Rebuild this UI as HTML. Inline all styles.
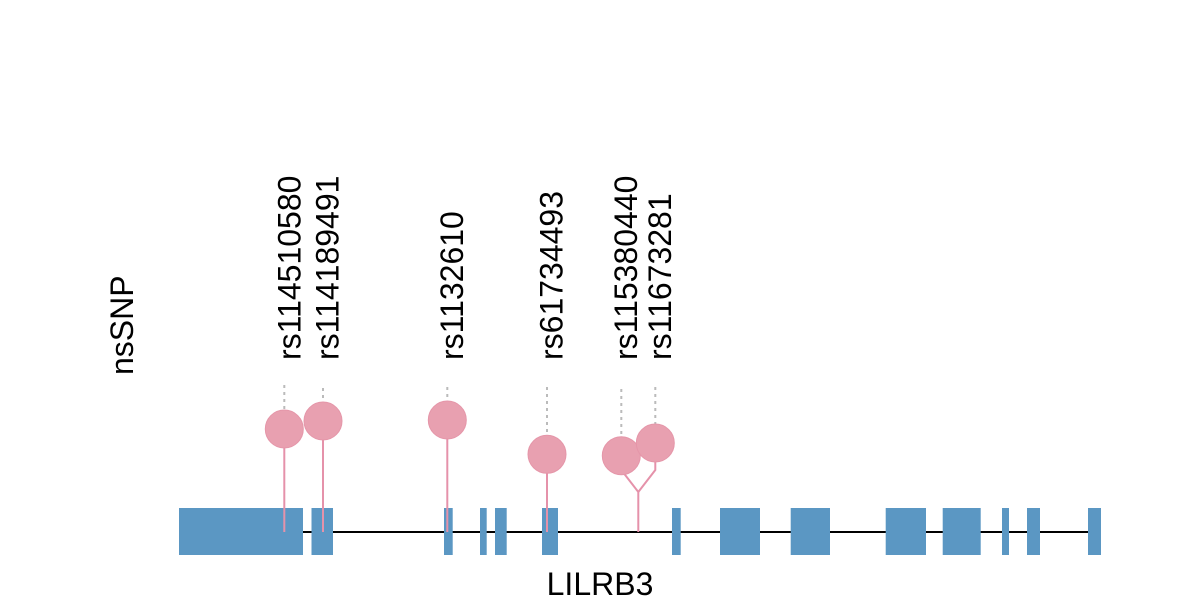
<!DOCTYPE html>
<html><head><meta charset="utf-8"><style>html,body{margin:0;padding:0;background:#fff;}svg{display:block}</style></head>
<body>
<svg width="1200" height="600" xmlns="http://www.w3.org/2000/svg" font-family="Liberation Sans, Arial, sans-serif">
<rect width="1200" height="600" fill="#fff"/>
<line x1="179" y1="532" x2="1101" y2="532" stroke="#000" stroke-width="2"/>
<g fill="#5b97c3">
<rect x="179" y="508" width="124" height="47"/>
<rect x="311.5" y="508" width="21.5" height="47"/>
<rect x="444" y="508" width="8.7" height="47"/>
<rect x="480" y="508" width="6.7" height="47"/>
<rect x="495" y="508" width="11.7" height="47"/>
<rect x="542" y="508" width="16" height="47"/>
<rect x="672" y="508" width="8.7" height="47"/>
<rect x="720" y="508" width="40" height="47"/>
<rect x="790.7" y="508" width="39.3" height="47"/>
<rect x="885.7" y="508" width="40.3" height="47"/>
<rect x="942.7" y="508" width="38" height="47"/>
<rect x="1002" y="508" width="7" height="47"/>
<rect x="1027" y="508" width="13" height="47"/>
<rect x="1088" y="508" width="13" height="47"/>
</g>
<g stroke="#bbb" stroke-width="2" stroke-dasharray="3,4">
<line x1="284.3" y1="385" x2="284.3" y2="410"/>
<line x1="323" y1="388" x2="323" y2="402"/>
<line x1="447.3" y1="387" x2="447.3" y2="401"/>
<line x1="547" y1="387" x2="547" y2="435"/>
<line x1="621.3" y1="389" x2="621.3" y2="437"/>
<line x1="655.3" y1="387" x2="655.3" y2="424"/>
</g>
<g stroke="#e592aa" stroke-width="2" fill="none">
<line x1="284.3" y1="429" x2="284.3" y2="532"/>
<line x1="323" y1="421" x2="323" y2="532"/>
<line x1="447.3" y1="420" x2="447.3" y2="532"/>
<line x1="547" y1="454" x2="547" y2="532"/>
<polyline points="638.3,532 638.3,492 621.3,470 621.3,456"/>
<polyline points="638.3,492 655.3,470 655.3,443"/>
</g>
<g fill="#e8a0b0" stroke="#e596a9" stroke-width="1">
<circle cx="284.3" cy="429" r="19"/>
<circle cx="323" cy="421" r="19"/>
<circle cx="447.3" cy="420" r="19"/>
<circle cx="547" cy="454.3" r="19"/>
<circle cx="621.3" cy="455.7" r="19"/>
<circle cx="655.3" cy="443" r="19"/>
</g>
<g font-size="32" fill="#000">
<text transform="translate(300.5,360) rotate(-90)">rs114510580</text>
<text transform="translate(338.5,360) rotate(-90)">rs114189491</text>
<text transform="translate(463,360) rotate(-90)">rs1132610</text>
<text transform="translate(562.5,360) rotate(-90)">rs61734493</text>
<text transform="translate(637,360) rotate(-90)">rs115380440</text>
<text transform="translate(671,360) rotate(-90)">rs11673281</text>
<text transform="translate(133,375) rotate(-90)">nsSNP</text>
<text x="600" y="595" text-anchor="middle">LILRB3</text>
</g>
</svg>
</body></html>
